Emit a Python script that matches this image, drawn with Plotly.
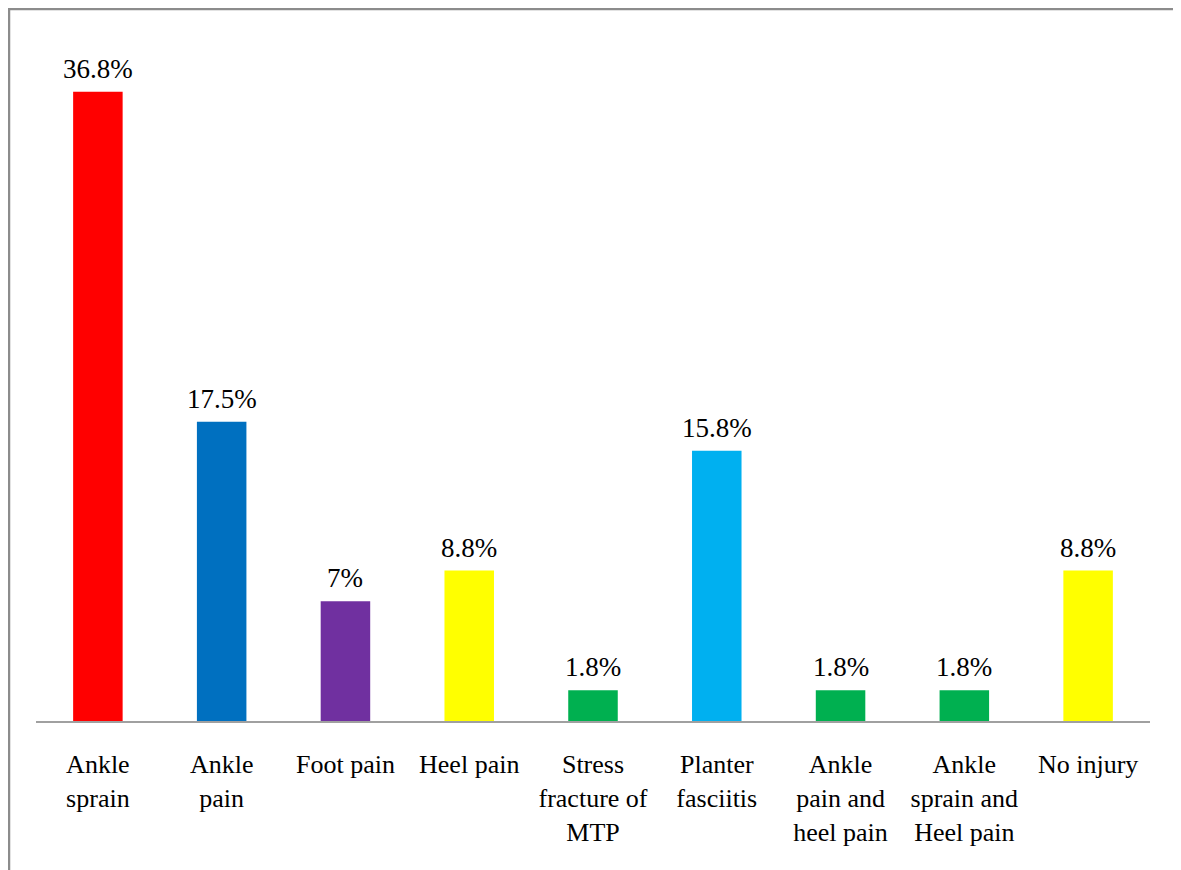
import plotly.graph_objects as go

# injury categories and their share of respondents (%)
categories = [
    "Ankle<br>sprain",
    "Ankle<br>pain",
    "Foot pain",
    "Heel pain",
    "Stress<br>fracture of<br>MTP",
    "Planter<br>fasciitis",
    "Ankle<br>pain and<br>heel pain",
    "Ankle<br>sprain and<br>Heel pain",
    "No injury",
]
percentages = [36.8, 17.5, 7, 8.8, 1.8, 15.8, 1.8, 1.8, 8.8]
value_labels = ["36.8%", "17.5%", "7%", "8.8%", "1.8%", "15.8%", "1.8%", "1.8%", "8.8%"]
bar_colors = ["#FF0000", "#0070C0", "#7030A0", "#FFFF00", "#00B050",
              "#00B0F0", "#00B050", "#00B050", "#FFFF00"]

serif = "Liberation Serif, Times New Roman, serif"

fig = go.Figure(go.Bar(
    x=categories,
    y=percentages,
    marker=dict(color=bar_colors, line=dict(width=0)),
    width=0.4,
))

# value labels above the bars
for cat, val, lab in zip(categories, percentages, value_labels):
    fig.add_annotation(
        x=cat, y=val, text=lab, showarrow=False,
        yanchor="bottom", yshift=6,
        font=dict(family=serif, size=27, color="black"),
    )

# page has an 8px body margin, so the figure is 8px smaller each way
W, H = 1173, 862
L, R, T, B = 28, 31, 29, 149
pw = W - L - R
ph = H - T - B

fig.update_layout(
    width=W,
    height=H,
    margin=dict(l=L, r=R, t=T, b=B),
    paper_bgcolor="white",
    plot_bgcolor="white",
    showlegend=False,
    font=dict(family=serif, size=26, color="black"),
    shapes=[dict(
        type="rect", xref="paper", yref="paper",
        x0=(1 - L) / pw, x1=(1168 - L) / pw,
        y0=-0.4, y1=(H - B - 1) / ph,
        line=dict(color="#8c8c8c", width=2.5),
        fillcolor="rgba(0,0,0,0)",
    )],
)

fig.update_xaxes(
    showline=True, linecolor="#a0a0a0", linewidth=2,
    ticks="", tickangle=0, ticklabelstandoff=19,
    tickfont=dict(family=serif, size=26, color="black"),
)
fig.update_yaxes(
    range=[0, 40], showgrid=False, zeroline=False,
    showticklabels=False, showline=False,
)

fig.write_html("out.html")
